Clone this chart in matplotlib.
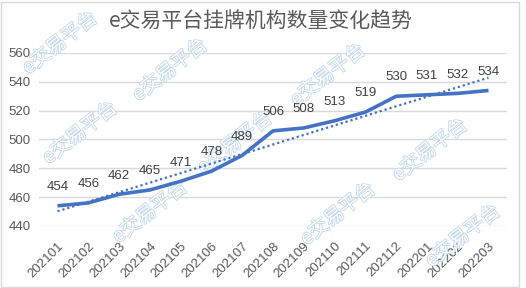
import numpy as np
import matplotlib.pyplot as plt
import matplotlib.patheffects as pe
from matplotlib.patches import Rectangle

plt.rcParams['font.family'] = ['Liberation Sans', 'Noto Sans CJK SC', 'DejaVu Sans']

months = ["202101", "202102", "202103", "202104", "202105", "202106", "202107",
          "202108", "202109", "202110", "202111", "202112", "202201", "202202", "202203"]
counts = [454, 456, 462, 465, 471, 478, 489, 506, 508, 513, 519, 530, 531, 532, 534]
yticks = [440, 460, 480, 500, 520, 540, 560]
title = "e交易平台挂牌机构数量变化趋势"
watermark = "e交易平台"

W, H = 526, 288
fig = plt.figure(figsize=(W / 100, H / 100), dpi=100)
ax = fig.add_axes([39 / W, 1 - 226 / H, (507 - 39) / W, (226 - 53) / H])
ax.set_facecolor("none")

blue = "#4472C4"
x = np.arange(len(months))

# watermark stamps (pixel centres in the picture)
marks = [(60, 43), (80, 133), (170, 70), (150, 212), (328, 75),
         (235, 143), (338, 214), (430, 150), (463, 236)]
for px, py in marks:
    ax.text(px / W, 1 - py / H, watermark, transform=fig.transFigure,
            rotation=38, ha="center", va="center", fontsize=14,
            family=["Noto Sans CJK SC", "DejaVu Sans"], color="white",
            zorder=1, clip_on=False,
            path_effects=[pe.Stroke(linewidth=1.2, foreground="#c2d6ee"), pe.Normal()])

ax.plot(x, counts, color=blue, lw=2.6, zorder=3, solid_capstyle="butt")

# linear trend line
k, b = np.polyfit(x, counts, 1)
ax.plot(x, k * x + b, color=blue, lw=1.6, ls=(0, (1, 1.3)), zorder=3)

for xi, v in zip(x, counts):
    ax.annotate(str(v), (xi, v), xytext=(0, 13.5), textcoords="offset points",
                ha="center", va="center", fontsize=9.5, color="#404040", zorder=4)

ax.set_ylim(440, 560)
ax.set_yticks(yticks)
ax.set_xlim(-0.6, len(months) - 0.4)
ax.set_xticks(x)
ax.set_xticklabels(months, rotation=45, ha="right", va="top", rotation_mode="anchor")
ax.tick_params(axis="both", length=0, labelsize=9.5, labelcolor="#595959")
ax.tick_params(axis="y", pad=6)
ax.tick_params(axis="x", pad=10)
ax.grid(axis="y", color="#d9d9d9", lw=1)
ax.set_axisbelow(True)
for s in ax.spines.values():
    s.set_visible(False)

fig.text(261 / W, 1 - 22 / H, title, ha="center", va="center", fontsize=15,
         color="#595959", family=["Noto Sans CJK SC", "DejaVu Sans"])

fig.patches.append(Rectangle((1 / W, 1 / H), 518 / W, 285 / H, transform=fig.transFigure,
                             fill=False, edgecolor="#d9d9d9", lw=1))

fig.savefig("out.png", dpi=100)
